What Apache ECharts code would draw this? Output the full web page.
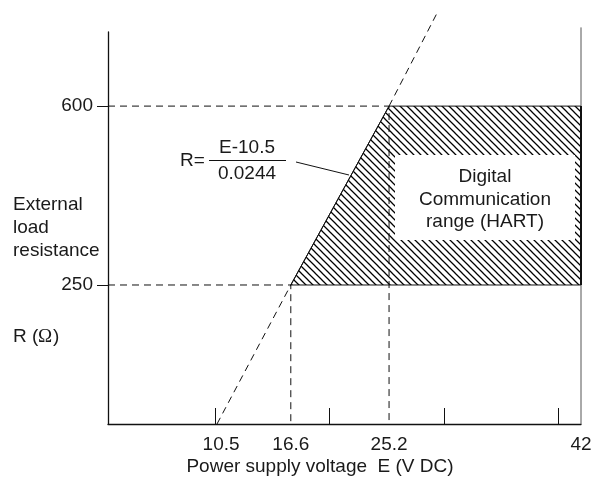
<!DOCTYPE html>
<html>
<head>
<meta charset="utf-8">
<script src="https://cdn.jsdelivr.net/npm/echarts@6/dist/echarts.min.js"></script>
<style>
html,body{margin:0;padding:0;background:#fff;}
#chart{width:600px;height:477px;}
</style>
</head>
<body>
<div id="chart"></div>
<script>
// ---- data ----
const xTickValues = [10, 20, 30, 40];
const xLabelValues = [10.5, 16.6, 25.2, 42];
const yLabelValues = [250, 600];
const xRange = [0.6, 42];
const yRange = [-22, 745];
// load line R = (E-10.5)/0.0244 (schematic)
const loadLineLower = [[10.14, -22], [16.6, 250]];
const loadLineMid = [[16.6, 250], [25.2, 600]];
const loadLineUpper = [[25.2, 600], [29.4, 782]];
// HART communication range polygon
const hartRegion = [[16.6, 250], [25.2, 600], [42, 600], [42, 250]];
const guide250 = [[0.6, 250], [16.6, 250], [16.6, -22]];
const guide600 = [[0.6, 600], [25.2, 600], [25.2, -22]];
const rightEdge = [[42, -22], [42, 754]];
const hartEdge = [[42, 250], [42, 600]];

const FONT = '"Liberation Sans", Arial, sans-serif';
const FS = 19;
const TXT = '#1a1a1a';

// hatch pattern
function makeHatch() {
  const s = 7;
  const c = document.createElement('canvas');
  c.width = s; c.height = s;
  const g = c.getContext('2d');
  g.strokeStyle = '#000';
  g.lineWidth = 1.25;
  g.beginPath();
  g.moveTo(-1, -1); g.lineTo(s + 1, s + 1);
  g.moveTo(-1, s - 1); g.lineTo(1, s + 1);
  g.moveTo(s - 1, -1); g.lineTo(s + 1, 1);
  g.stroke();
  return c;
}

const chart = echarts.init(document.getElementById('chart'), null, {renderer: 'canvas'});

function dashed(data, extra) {
  return Object.assign({
    type: 'line', data: data, symbol: 'none', silent: true, clip: false,
    lineStyle: {color: '#111', width: 1, type: [7, 5]}, z: 5
  }, extra || {});
}

const option = {
  animation: false,
  backgroundColor: '#fff',
  grid: {left: 108, right: 19, top: 32, bottom: 53},
  xAxis: {
    type: 'value', min: xRange[0], max: xRange[1],
    axisLine: {show: true, onZero: false, lineStyle: {color: '#111', width: 1.3}},
    axisTick: {show: true, inside: true, length: 16, customValues: xTickValues, lineStyle: {color: '#111', width: 1}},
    axisLabel: {customValues: xLabelValues, margin: 11, color: TXT, fontSize: FS, fontFamily: FONT,
      formatter: v => String(v)},
    splitLine: {show: false}
  },
  yAxis: {
    type: 'value', min: yRange[0], max: yRange[1],
    axisLine: {show: true, onZero: false, lineStyle: {color: '#111', width: 1.3}},
    axisTick: {show: true, inside: false, length: 11, customValues: yLabelValues, lineStyle: {color: '#111', width: 1}},
    axisLabel: {customValues: yLabelValues, margin: 15, color: TXT, fontSize: FS, fontFamily: FONT},
    splitLine: {show: false}
  },
  series: [
    {
      type: 'custom', silent: true, z: 3, clip: false,
      data: [0],
      renderItem: function (params, api) {
        const pts = hartRegion.map(p => api.coord(p));
        return {
          type: 'polygon',
          shape: {points: pts},
          style: {fill: {image: makeHatch(), repeat: 'repeat'}, stroke: '#111', lineWidth: 1}
        };
      }
    },
    dashed(guide250),
    dashed(guide600),
    dashed(loadLineLower),
    dashed(loadLineUpper),
    {type: 'line', data: loadLineMid, symbol: 'none', silent: true, clip: false,
      lineStyle: {color: '#111', width: 1}, z: 6},
    {type: 'line', data: rightEdge, symbol: 'none', silent: true, clip: false,
      lineStyle: {color: '#555', width: 1}, z: 6},
    {type: 'line', data: hartEdge, symbol: 'none', silent: true, clip: false,
      lineStyle: {color: '#111', width: 2}, z: 7}
  ],
  graphic: [
    {type: 'rect', z: 20, shape: {x: 395, y: 155, width: 180, height: 85}, style: {fill: '#fff'}},
    {type: 'text', z: 21, x: 485, y: 177, style: {text: 'Digital', font: FS + 'px ' + FONT, fill: TXT, textAlign: 'center', textVerticalAlign: 'middle'}},
    {type: 'text', z: 21, x: 485, y: 200, style: {text: 'Communication', font: FS + 'px ' + FONT, fill: TXT, textAlign: 'center', textVerticalAlign: 'middle'}},
    {type: 'text', z: 21, x: 485, y: 222, style: {text: 'range (HART)', font: FS + 'px ' + FONT, fill: TXT, textAlign: 'center', textVerticalAlign: 'middle'}},

    {type: 'text', z: 21, x: 13, y: 205, style: {text: 'External', font: FS + 'px ' + FONT, fill: TXT, textAlign: 'left', textVerticalAlign: 'middle'}},
    {type: 'text', z: 21, x: 13, y: 228, style: {text: 'load', font: FS + 'px ' + FONT, fill: TXT, textAlign: 'left', textVerticalAlign: 'middle'}},
    {type: 'text', z: 21, x: 13, y: 251, style: {text: 'resistance', font: FS + 'px ' + FONT, fill: TXT, textAlign: 'left', textVerticalAlign: 'middle'}},
    {type: 'text', z: 21, x: 13, y: 337, style: {text: 'R (', font: FS + 'px ' + FONT, fill: TXT, textAlign: 'left', textVerticalAlign: 'middle'}},
    {type: 'text', z: 21, x: 38, y: 337, style: {text: 'Ω', font: FS + 'px "Liberation Serif", serif', fill: TXT, textAlign: 'left', textVerticalAlign: 'middle'}},
    {type: 'text', z: 21, x: 53, y: 337, style: {text: ')', font: FS + 'px ' + FONT, fill: TXT, textAlign: 'left', textVerticalAlign: 'middle'}},

    {type: 'text', z: 21, x: 180, y: 161, style: {text: 'R=', font: FS + 'px ' + FONT, fill: TXT, textAlign: 'left', textVerticalAlign: 'middle'}},
    {type: 'text', z: 21, x: 247, y: 148, style: {text: 'E-10.5', font: FS + 'px ' + FONT, fill: TXT, textAlign: 'center', textVerticalAlign: 'middle'}},
    {type: 'text', z: 21, x: 247, y: 174, style: {text: '0.0244', font: FS + 'px ' + FONT, fill: TXT, textAlign: 'center', textVerticalAlign: 'middle'}},
    {type: 'line', z: 21, shape: {x1: 209, y1: 160.5, x2: 286, y2: 160.5}, style: {stroke: '#111', lineWidth: 1}},
    {type: 'line', z: 21, shape: {x1: 296, y1: 162, x2: 349, y2: 175}, style: {stroke: '#111', lineWidth: 1}},

    {type: 'text', z: 21, x: 320, y: 467, style: {text: 'Power supply voltage  E (V DC)', font: FS + 'px ' + FONT, fill: TXT, textAlign: 'center', textVerticalAlign: 'middle'}}
  ]
};
chart.setOption(option);
</script>
</body>
</html>
